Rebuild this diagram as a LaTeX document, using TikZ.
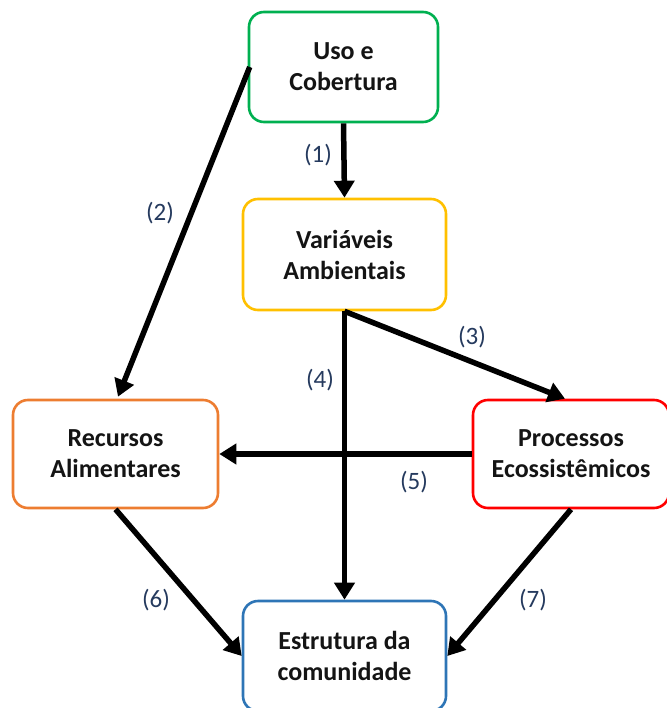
\documentclass[tikz,border=0pt]{standalone}
\usepackage{fontspec}
\setmainfont{Carlito}
\usetikzlibrary{arrows.meta}
\definecolor{cgreen}{HTML}{00B050}
\definecolor{cyellow}{HTML}{FFC000}
\definecolor{corange}{HTML}{ED7D31}
\definecolor{cred}{HTML}{FF0000}
\definecolor{cblue}{HTML}{2E75B6}
\definecolor{ctext}{HTML}{141414}
\definecolor{clabel}{HTML}{253A5E}
\tikzset{
  box/.style={draw, line width=2.6pt, rounded corners=15pt, fill=white, align=center,
    text=ctext, font=\fontsize{26}{31}\selectfont\bfseries, inner sep=0pt},
  conn/.style={line width=5.5pt, -{Triangle[length=17pt,width=20pt]}, black},
  lab/.style={text=clabel, font=\fontsize{25}{28}\selectfont, inner sep=0pt}
}
\begin{document}
\begin{tikzpicture}[x=1pt,y=-1pt]
\useasboundingbox (0,0) rectangle (666,708);
\node[box, draw=cgreen, minimum width=189pt, minimum height=110pt] (uso) at (343.5,67) {Uso e\\Cobertura};
\node[box, draw=cyellow, minimum width=203pt, minimum height=111pt] (var) at (344.5,254.5) {Variáveis\\Ambientais};
\node[box, draw=corange, minimum width=205pt, minimum height=108pt] (rec) at (115.5,454) {Recursos\\Alimentares};
\node[box, draw=cred, minimum width=196pt, minimum height=108pt] (pro) at (571,454) {Processos\\Ecossistêmicos};
\node[box, draw=cblue, minimum width=203pt, minimum height=110pt] (est) at (344.5,656) {Estrutura da\\comunidade};
\coordinate (varS) at (var.south);
\coordinate (proN) at ([xshift=-6pt]pro.north);
\coordinate (usoW) at ([xshift=2pt]uso.west);
\coordinate (recN) at ([xshift=2.5pt,yshift=2pt]rec.north);
\draw[conn] (uso.south) -- (var.north);
\draw[conn] (usoW) -- (recN);
\draw[conn] (varS) -- (proN);
\draw[conn] (varS) -- (est.north);
\draw[conn] (pro.west) -- (rec.east);
\draw[conn] (rec.south) -- (est.west);
\draw[conn] (pro.south) -- (est.east);
\node[lab] (l1) at (318,155) {(1)};
\node[lab] (l2) at (160,213) {(2)};
\node[lab] (l3) at (472,337) {(3)};
\node[lab] (l4) at (320,380) {(4)};
\node[lab] (l5) at (414,482) {(5)};
\node[lab] (l6) at (156,600) {(6)};
\node[lab] (l7) at (533,600) {(7)};
\end{tikzpicture}
\end{document}
